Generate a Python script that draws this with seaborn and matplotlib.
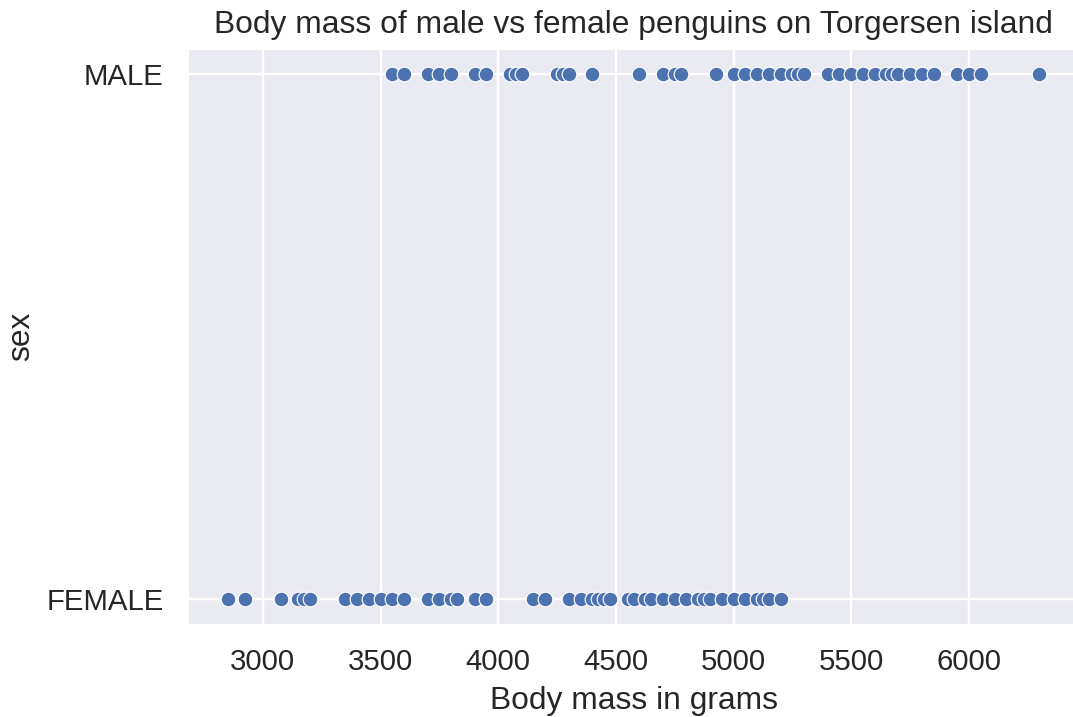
import matplotlib
matplotlib.use("Agg")
import matplotlib.pyplot as plt
import seaborn as sns
import pandas as pd

female_mass = [2850, 2925, 3075, 3150, 3175, 3200, 3350, 3400, 3450, 3500, 3550, 3600,
               3700, 3750, 3800, 3825, 3900, 3950, 4150, 4200, 4300, 4350, 4400, 4425,
               4450, 4475, 4550, 4575, 4625, 4650, 4700, 4750, 4800, 4850, 4875, 4900,
               4950, 5000, 5050, 5100, 5125, 5150, 5200]
male_mass = [3550, 3600, 3700, 3750, 3800, 3900, 3950, 4050, 4075, 4100, 4250, 4275,
             4300, 4400, 4600, 4700, 4750, 4775, 4925, 5000, 5050, 5100, 5150, 5200,
             5250, 5275, 5300, 5400, 5450, 5500, 5550, 5600, 5650, 5675, 5700, 5750,
             5800, 5850, 5950, 6000, 6050, 6300]
sex_labels = ["MALE", "FEMALE"]

df = pd.DataFrame({
    "body_mass_g": male_mass + female_mass,
    "sex": [sex_labels[0]] * len(male_mass) + [sex_labels[1]] * len(female_mass),
})

sns.set_theme()
plt.rcParams["font.family"] = ["Liberation Sans", "DejaVu Sans"]

fig = plt.figure(figsize=(1073 / 176, 717 / 176), dpi=176)
ax = fig.add_axes([187 / 1073, (717 - 625) / 717, (1080 - 187) / 1073, (625 - 48) / 717])
sns.scatterplot(data=df, x="body_mass_g", y="sex", ax=ax)
ax.set_title("Body mass of male vs female penguins on Torgersen island", fontsize=13)
ax.set_xlabel("Body mass in grams", fontsize=13)
ax.set_ylabel("sex", fontsize=13)
ax.tick_params(labelsize=12)
fig.savefig("out.png", dpi=176)
